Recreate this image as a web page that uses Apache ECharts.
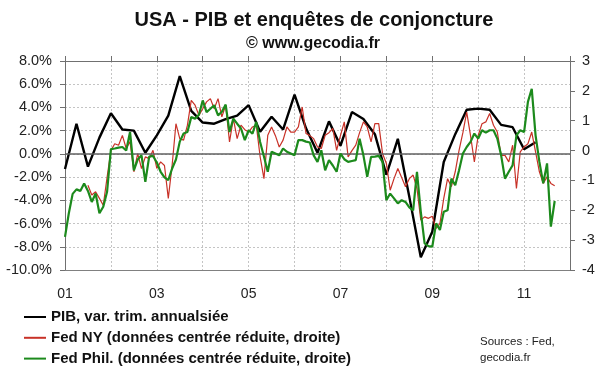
<!DOCTYPE html>
<html><head><meta charset="utf-8">
<script src="https://cdn.jsdelivr.net/npm/echarts@6/dist/echarts.min.js"></script>
<style>html,body{margin:0;padding:0;background:#fff}#c{width:600px;height:372px}</style>
</head><body><div id="c"></div>
<script>
// ---- data ----
const startYear = 2001;
const xTickLabels = ['01', '03', '05', '07', '09', '11'];
// PIB, variation trimestrielle annualisée (%), 2001T1 .. 2011T2
const gdp = [
  -1.3, 2.6, -1.1, 1.4,
  3.5, 2.1, 2.0, 0.1,
  1.6, 3.3, 6.7, 3.7,
  2.7, 2.6, 3.0, 3.3,
  4.2, 1.9, 3.2, 2.1,
  5.1, 2.2, 0.1, 2.8,
  0.7, 3.6, 3.0, 1.7,
  -1.8, 1.3, -3.7, -8.9,
  -6.7, -0.7, 1.7, 3.8,
  3.9, 3.8, 2.5, 2.3,
  0.4, 1.0
];
// Fed NY (Empire State), centrée réduite, mensuel 2001-01 .. 2011-09
const fedNY = [
  null, null, null, null, null, null, -1.16, -1.49, -1.38, -1.6, -1.83, -0.9,
  0.0, 0.23, 0.18, 0.51, 0.07, 0.3, -0.71, -0.1, -0.6, -0.21, -0.27, 0.01,
  -0.6, -0.38, -0.5, -1.6, -0.49, 0.9, 0.4, 0.35, 0.85, 1.68, 1.52, 1.18,
  1.4, 1.63, 1.74, 1.4, 1.74, 1.13, 1.52, 0.29, 1.07, 0.4, 0.85, 0.7,
  0.62, 0.79, 0.85, -0.2, -0.94, 0.51, 0.79, 0.5, 0.12, 0.35, 0.79, 0.62,
  0.62, 0.79, 1.46, 0.57, 0.5, 0.4, 0.12, 0.07, 0.51, 0.6, 0.74, 0.01,
  0.5, 0.96, -0.21, 0.0, 0.18, 0.6, 0.96, 0.79, 0.29, 0.9, 0.9, -0.1,
  -0.43, -1.33, -0.94, -0.6, -0.9, -1.21, -0.94, -0.82, -1.27, -2.33, -2.22, -2.27,
  -2.2, -2.61, -2.44, -1.6, -0.94, -1.21, -0.71, 0.01, 0.6, 1.29, 0.5, -0.38,
  0.51, 0.9, 0.96, 1.24, 0.85, 0.62, -0.16, -0.16, -0.38, 0.18, -1.27, -0.04,
  0.12, 0.23, 0.62, -0.04, -0.71, -1.1, -0.88, -1.1, -1.18
];
// Fed Philadelphie, centrée réduite, mensuel 2001-01 .. 2011-09
const fedPhil = [
  -2.89, -2.1, -1.45, -1.3, -1.35, -1.1, -1.35, -1.72, -1.44, -2.1, -1.88, -1.38,
  0.05, 0.07, 0.1, 0.12, 0.0, 0.62, -0.66, -0.3, -0.16, -1.05, -0.2, -0.18,
  -0.4, -0.71, -0.9, -0.99, -0.6, -0.3, 0.3, 0.57, 0.62, 1.12, 1.07, 1.2,
  1.68, 1.29, 1.4, 1.52, 1.18, 1.3, 1.54, 0.62, 1.07, 0.9, 0.74, 0.35,
  0.68, 0.57, 0.96, 0.29, -0.2, -0.71, -0.04, -0.1, -0.16, 0.07, -0.04, -0.1,
  -0.16, 0.35, 0.35, 0.3, 0.27, -0.16, -0.38, 0.01, -0.66, -0.32, -0.5, -0.71,
  -0.1, -0.29, -0.38, -0.35, -0.32, 0.4, -0.16, -0.88, -0.21, -0.2, -0.18, -0.38,
  -1.66, -1.44, -1.6, -1.77, -1.66, -1.72, -1.9, -2.0, -0.71, -2.05, -3.11, -3.2,
  -3.22, -2.44, -2.66, -2.05, -2.0, -0.94, -1.16, -0.66, -0.1, 0.12, 0.29, 0.57,
  0.4, 0.68, 0.6, 0.68, 0.68, 0.4, -0.16, -0.94, -0.71, -0.49, 0.51, 0.68,
  0.62, 1.63, 2.07, 0.51, -0.38, -1.1, -0.43, -2.55, -1.69
];
const seriesNames = [
  'PIB, var. trim. annualsiée',
  'Fed NY (données centrée réduite, droite)',
  'Fed Phil. (données centrée réduite, droite)'
];
const titleText = 'USA - PIB et enquêtes de conjoncture';
const subText = '© www.gecodia.fr';
const sourceText = 'Sources : Fed,\ngecodia.fr';

// ---- chart ----
const FONT = '"Liberation Sans", Arial, sans-serif';
const gdpData = gdp.map((v, k) => [3 * k, v]);
const nyData = fedNY.map((v, i) => [i, v]).filter(d => d[1] !== null);
const phData = fedPhil.map((v, i) => [i, v]);
const totalMonths = 132;

const chart = echarts.init(document.getElementById('c'), null, {renderer: 'canvas'});
chart.setOption({
  animation: false,
  backgroundColor: '#fff',
  textStyle: {fontFamily: FONT},
  title: [
    {text: titleText, left: 314, top: 10, textAlign: 'center', padding: 0,
     textStyle: {fontFamily: FONT, fontSize: 20, fontWeight: 'bold', color: '#111'}},
    {text: subText, left: 313, top: 36, textAlign: 'center', padding: 0,
     textStyle: {fontFamily: FONT, fontSize: 16, fontWeight: 'bold', color: '#111'}},
    {text: sourceText, left: 480, top: 334, padding: 0,
     textStyle: {fontFamily: FONT, fontSize: 11.5, fontWeight: 'normal', color: '#222', lineHeight: 16}}
  ],
  legend: {
    orient: 'vertical', left: 24, top: 309, padding: 0,
    icon: 'rect', itemWidth: 22, itemHeight: 2, itemGap: 4.8,
    data: seriesNames,
    textStyle: {fontFamily: FONT, fontSize: 15, fontWeight: 'bold', color: '#111', lineHeight: 16}
  },
  grid: {left: 65, right: 30, top: 61, bottom: 102},
  xAxis: [
    {type: 'value', min: 0, max: totalMonths, interval: 12, position: 'bottom',
     axisLine: {show: true, onZero: false, lineStyle: {color: '#808080', width: 1}},
     axisTick: {show: false},
     axisLabel: {margin: 17, color: '#222', fontSize: 14, fontFamily: FONT,
       formatter: v => (v % 24 === 0 ? (xTickLabels[v / 24] || '') : '')},
     splitLine: {show: true, lineStyle: {color: '#c4c4c4', type: [2, 2], width: 1}}},
    {type: 'value', min: 0, max: totalMonths, interval: 12, position: 'top',
     axisLine: {show: true, onZero: false, lineStyle: {color: '#707070', width: 1}},
     axisTick: {show: true, inside: false, length: 5, lineStyle: {color: '#707070'}},
     axisLabel: {show: false}, splitLine: {show: false}}
  ],
  yAxis: [
    {type: 'value', min: -10, max: 8, interval: 2, position: 'left',
     axisLine: {show: true, onZero: false, lineStyle: {color: '#707070', width: 1}},
     axisTick: {show: true, inside: false, length: 5, lineStyle: {color: '#707070'}},
     axisLabel: {margin: 13, color: '#222', fontSize: 14.5, fontFamily: FONT,
       formatter: v => v.toFixed(1) + '%'},
     splitLine: {show: true, lineStyle: {color: '#c4c4c4', type: [2, 2], width: 1}}},
    {type: 'value', min: -4, max: 3, interval: 1, position: 'right',
     axisLine: {show: true, onZero: false, lineStyle: {color: '#707070', width: 1}},
     axisTick: {show: true, inside: false, length: 5, lineStyle: {color: '#707070'}},
     axisLabel: {margin: 12, color: '#222', fontSize: 14.5, fontFamily: FONT},
     splitLine: {show: false}}
  ],
  series: [
    {name: seriesNames[0], type: 'line', xAxisIndex: 0, yAxisIndex: 0, data: gdpData,
     symbol: 'none', color: '#000', lineStyle: {color: '#000', width: 2.4}, z: 3,
     markLine: {silent: true, symbol: 'none', label: {show: false},
       lineStyle: {color: '#606060', width: 1.5, type: 'solid'}, data: [{yAxis: 0}]}},
    {name: seriesNames[1], type: 'line', xAxisIndex: 0, yAxisIndex: 1, data: nyData,
     symbol: 'none', color: '#c83228', lineStyle: {color: '#c83228', width: 1.2}, z: 4},
    {name: seriesNames[2], type: 'line', xAxisIndex: 0, yAxisIndex: 1, data: phData,
     symbol: 'none', color: '#1c8a1c', lineStyle: {color: '#1c8a1c', width: 2.2}, z: 5}
  ]
});
</script></body></html>
